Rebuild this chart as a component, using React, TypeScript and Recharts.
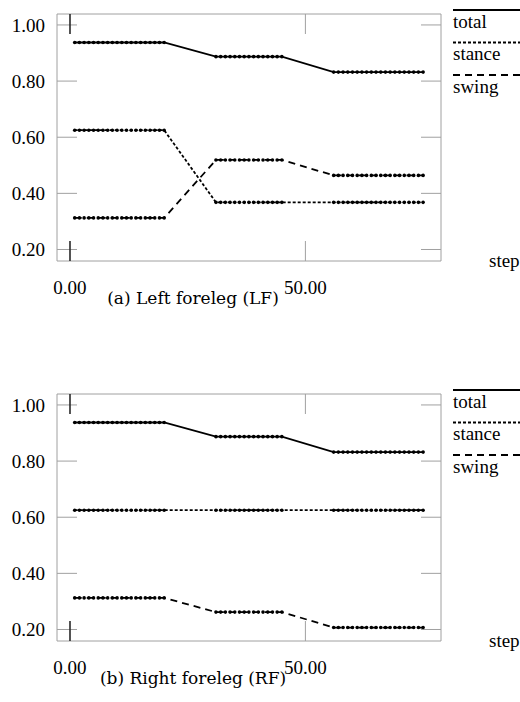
import React from 'react';
import { LineChart, Line, XAxis, YAxis, Legend } from 'recharts';

// step ranges of the three constant phases (dots drawn at every step inside a range)
const segmentStart = [1, 31, 56];
const segmentEnd = [20, 45, 75];

// Left foreleg (LF)
const lfTotal = [0.9375, 0.887, 0.832];
const lfStance = [0.625, 0.368, 0.368];
const lfSwing = [0.3125, 0.519, 0.464];

// Right foreleg (RF)
const rfTotal = [0.9375, 0.887, 0.832];
const rfStance = [0.625, 0.625, 0.625];
const rfSwing = [0.3125, 0.262, 0.207];

const yTicks = [0.2, 0.4, 0.6, 0.8, 1.0];
const xTicks = [0, 50];
const seriesNames = ['total', 'stance', 'swing'];
const captions = ['(a) Left foreleg (LF)', '(b) Right foreleg (RF)'];
const xLabel = 'step';

const dashes: Record<string, string | undefined> = {
  total: undefined,
  stance: '3 2',
  swing: '7 5',
};

const FRAME = '#a0a0a0';
const SERIF = "'Liberation Serif', serif";
const textStyle = { fontFamily: SERIF, fontSize: 19 };

function buildRows(total: number[], stance: number[], swing: number[]) {
  const rows: { step: number; total: number; stance: number; swing: number }[] = [];
  segmentStart.forEach((s, i) => {
    for (let st = s; st <= segmentEnd[i]; st++) {
      rows.push({ step: st, total: total[i], stance: stance[i], swing: swing[i] });
    }
  });
  return rows;
}

const lfData = buildRows(lfTotal, lfStance, lfSwing);
const rfData = buildRows(rfTotal, rfStance, rfSwing);

const BottomTick = (props: any) => {
  const { x, y, payload } = props;
  return (
    <g>
      {payload.value === 0 && (
        <line x1={x} x2={x} y1={y - 39} y2={y - 19} stroke="#000" strokeWidth={1.2} />
      )}
      <text x={x} y={y + 13.5} textAnchor="middle" style={textStyle} fill="#000">
        {Number(payload.value).toFixed(2)}
      </text>
    </g>
  );
};

const TopTick = (props: any) => {
  const { x, y, payload } = props;
  if (payload.value !== 0) return <g />;
  return <line x1={x} x2={x} y1={y} y2={y - 20} stroke="#000" strokeWidth={1.2} />;
};

const LeftTick = (props: any) => {
  const { x, y, payload } = props;
  return (
    <text x={x} y={y + 6.7} textAnchor="end" style={textStyle} fill="#000">
      {Number(payload.value).toFixed(2)}
    </text>
  );
};

const LegendContent = () => (
  <svg width={80} height={110} style={{ overflow: 'visible', display: 'block' }}>
    {seriesNames.map((n, i) => (
      <g key={n}>
        <line
          x1={0}
          x2={80}
          y1={10 + 32.5 * i}
          y2={10 + 32.5 * i}
          stroke="#000"
          strokeWidth={2}
          strokeDasharray={dashes[n]}
        />
        <text x={0} y={27.5 + 32.5 * i} style={textStyle} fill="#000">
          {n}
        </text>
      </g>
    ))}
  </svg>
);

function Panel({ data, top, caption }: { data: any[]; top: number; caption: string }) {
  return (
    <div style={{ position: 'absolute', left: 0, top, width: 520, height: 320 }}>
      <LineChart width={520} height={300} data={data} margin={{ top: 0, right: 0, bottom: 0, left: 0 }}>
        <XAxis
          xAxisId="bottom"
          dataKey="step"
          type="number"
          domain={[-2.76, 78.8]}
          ticks={xTicks}
          interval={0}
          orientation="bottom"
          height={39}
          axisLine={{ stroke: FRAME }}
          tickLine={{ stroke: FRAME }}
          tickSize={-20}
          tickMargin={39}
          tick={<BottomTick />}
          allowDataOverflow
          label={(p: any) => {
            const vb = p.viewBox;
            return (
              <text x={vb.x + vb.width + 48} y={vb.y + 6} style={textStyle} fill="#000">
                {xLabel}
              </text>
            );
          }}
        />
        <XAxis
          xAxisId="top"
          dataKey="step"
          type="number"
          domain={[-2.76, 78.8]}
          ticks={xTicks}
          interval={0}
          orientation="top"
          height={14}
          axisLine={{ stroke: FRAME }}
          tickLine={{ stroke: FRAME }}
          tickSize={-20}
          tickMargin={0}
          tick={<TopTick />}
          allowDataOverflow
        />
        <YAxis
          yAxisId="left"
          type="number"
          domain={[0.159, 1.039]}
          ticks={yTicks}
          interval={0}
          orientation="left"
          width={57}
          axisLine={{ stroke: FRAME }}
          tickLine={{ stroke: FRAME }}
          tickSize={-20}
          tickMargin={32}
          tick={<LeftTick />}
          allowDataOverflow
        />
        <YAxis
          yAxisId="right"
          type="number"
          domain={[0.159, 1.039]}
          ticks={yTicks}
          interval={0}
          orientation="right"
          width={79}
          axisLine={{ stroke: FRAME }}
          tickLine={{ stroke: FRAME }}
          tickSize={-20}
          tick={() => <g />}
          allowDataOverflow
        />
        <Legend
          layout="vertical"
          align="center"
          verticalAlign="middle"
          content={<LegendContent />}
          wrapperStyle={{ position: 'absolute', left: 453, top: 0, width: 80, height: 110 }}
        />
        {seriesNames.map((n) => (
          <Line
            key={n}
            xAxisId="bottom"
            yAxisId="left"
            dataKey={n}
            name={n}
            stroke="#000"
            strokeWidth={1.8}
            strokeDasharray={dashes[n]}
            dot={{ r: 1.8, fill: '#000', stroke: '#000', strokeWidth: 0 }}
            activeDot={false}
            isAnimationActive={false}
          />
        ))}
      </LineChart>
      <div
        style={{
          position: 'absolute',
          left: 0,
          width: 386,
          top: 288,
          textAlign: 'center',
          fontFamily: "'DejaVu Serif', serif",
          fontSize: 17,
          lineHeight: '20px',
          color: '#000',
        }}
      >
        {caption}
      </div>
    </div>
  );
}

export default function App() {
  return (
    <div style={{ position: 'absolute', left: 0, top: 0, width: 520, height: 702, background: '#fff', overflow: 'hidden' }}>
      <Panel data={lfData} top={0} caption={captions[0]} />
      <Panel data={rfData} top={380} caption={captions[1]} />
    </div>
  );
}
